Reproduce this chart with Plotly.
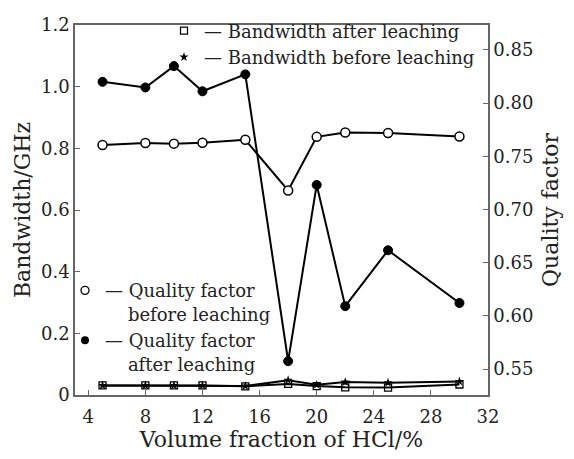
import plotly.graph_objects as go

hcl = [5, 8, 10, 12, 15, 18, 20, 22, 25, 30]
bw_after = [0.031, 0.031, 0.031, 0.031, 0.028, 0.036, 0.029, 0.025, 0.024, 0.034]
bw_before = [0.031, 0.031, 0.031, 0.031, 0.029, 0.048, 0.033, 0.042, 0.040, 0.044]
q_before = [0.7607, 0.7625, 0.7619, 0.7628, 0.7655, 0.7179, 0.7683, 0.7723, 0.7719, 0.7686]
q_after = [0.8200, 0.8147, 0.8348, 0.8111, 0.8270, 0.5575, 0.7231, 0.6092, 0.6617, 0.6122]

x_ticks = [4, 8, 12, 16, 20, 24, 28, 32]
y1_ticks = [0, 0.2, 0.4, 0.6, 0.8, 1.0, 1.2]
y1_text = ["0", "0.2", "0.4", "0.6", "0.8", "1.0", "1.2"]
y2_ticks = [0.55, 0.60, 0.65, 0.70, 0.75, 0.80, 0.85]
y2_text = ["0.55", "0.60", "0.65", "0.70", "0.75", "0.80", "0.85"]

FONT = "DejaVu Serif"
AX = "#666666"
NB = "\u00a0"

fig = go.Figure()

line = dict(color="black", width=2)
fig.add_trace(go.Scatter(x=hcl, y=bw_after, mode="lines+markers", line=line,
                         marker=dict(symbol="square-open", size=7, color="black", line=dict(width=1.3)),
                         showlegend=False, yaxis="y"))
fig.add_trace(go.Scatter(x=hcl, y=bw_before, mode="lines+markers", line=line,
                         marker=dict(symbol="star", size=7, color="black", line=dict(width=0)),
                         showlegend=False, yaxis="y"))
fig.add_trace(go.Scatter(x=hcl, y=q_before, mode="lines+markers", line=line,
                         marker=dict(symbol="circle", size=9, color="white", line=dict(color="black", width=1.5)),
                         showlegend=False, yaxis="y2"))
fig.add_trace(go.Scatter(x=hcl, y=q_after, mode="lines+markers", line=line,
                         marker=dict(symbol="circle", size=9, color="black", line=dict(color="black", width=1)),
                         showlegend=False, yaxis="y2"))

# legend entries
fig.add_trace(go.Scatter(x=[None], y=[None], mode="markers", legend="legend",
                         marker=dict(symbol="square-open", size=7, color="black", line=dict(width=1.2)),
                         name="— Bandwidth after leaching"))
fig.add_trace(go.Scatter(x=[None], y=[None], mode="markers", legend="legend",
                         marker=dict(symbol="star", size=7, color="black", line=dict(width=0)),
                         name="— Bandwidth before leaching"))
fig.add_trace(go.Scatter(x=[None], y=[None], mode="markers", legend="legend2",
                         marker=dict(symbol="circle", size=8, color="white", line=dict(color="black", width=1.3)),
                         name="— Quality factor<br>" + NB * 4 + "before leaching"))
fig.add_trace(go.Scatter(x=[None], y=[None], mode="markers", legend="legend2",
                         marker=dict(symbol="circle", size=8, color="black"),
                         name="— Quality factor<br>" + NB * 4 + "after leaching"))

fig.update_layout(
    width=574, height=459,
    margin=dict(l=75, r=86, t=18, b=59),
    paper_bgcolor="white", plot_bgcolor="white",
    font=dict(family=FONT, size=18, color="#222222"),
    xaxis=dict(range=[3.07, 32], tickvals=x_ticks, ticks="inside", ticklen=5, tickcolor=AX,
               showline=True, linecolor=AX, linewidth=1.5, mirror=True, showgrid=False, zeroline=False,
               ticklabelstandoff=5,
               title=dict(text="Volume fraction of HCl/%", standoff=4),
               tickfont=dict(size=18)),
    yaxis=dict(range=[0, 1.2], tickvals=y1_ticks, ticktext=y1_text, ticks="inside", ticklen=5, tickcolor=AX,
               showline=True, linecolor=AX, linewidth=1.5, showgrid=False, zeroline=False,
               title=dict(text="Bandwidth/GHz", standoff=4), tickfont=dict(size=18)),
    yaxis2=dict(range=[0.5257, 0.8734], tickvals=y2_ticks, ticktext=y2_text, ticks="inside", ticklen=5,
                tickcolor=AX, overlaying="y", side="right",
                showline=True, linecolor=AX, linewidth=1.5, showgrid=False, zeroline=False,
                title=dict(text="Quality factor", standoff=10), tickfont=dict(size=18)),
    legend=dict(x=0.2155, y=1.034, xanchor="left", yanchor="top", bgcolor="rgba(0,0,0,0)",
                font=dict(size=18), tracegroupgap=0, itemwidth=30, borderwidth=0),
    legend2=dict(x=-0.0242, y=0.332, xanchor="left", yanchor="top", bgcolor="rgba(0,0,0,0)",
                 font=dict(size=18), valign="top", tracegroupgap=0, itemwidth=30, borderwidth=0),
)

fig.write_html("out.html")
